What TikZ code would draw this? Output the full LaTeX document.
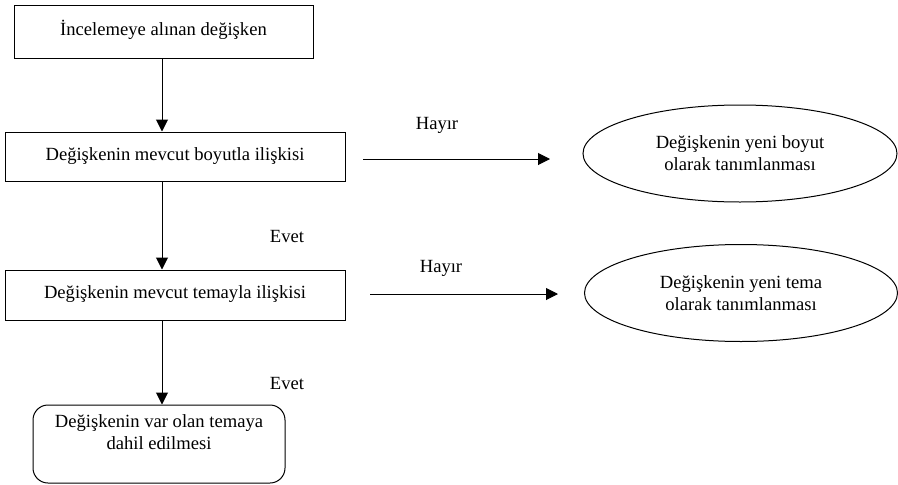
\documentclass[tikz,border=0pt]{standalone}
\usepackage{fontspec}
\setmainfont{Liberation Serif}
\newfontfamily\tnrfont{Liberation Serif}
\usetikzlibrary{arrows.meta,shapes.geometric}
\begin{document}
\begin{tikzpicture}[x=1pt,y=-1pt,
  every node/.style={font=\tnrfont\fontsize{18.6}{22}\selectfont, inner sep=0pt},
  box/.style={draw, line width=1pt, rectangle},
  rbox/.style={draw, line width=1pt, rectangle, rounded corners=15pt, align=center},
  oval/.style={draw, line width=1pt, ellipse, align=center},
  arr/.style={line width=1pt, -{Triangle[length=12pt,width=12pt]}},
  lbl/.style={}
]
\useasboundingbox (0,0) rectangle (898,485);

\node[box, minimum width=299pt, minimum height=53pt] (b1) at (163.5,31.5) {\raisebox{6.5pt}{İncelemeye alınan değişken}};
\node[box, minimum width=340pt, minimum height=49pt] (b2) at (175,156.5) {\raisebox{3.5pt}{Değişkenin mevcut boyutla ilişkisi}};
\node[box, minimum width=340pt, minimum height=50pt] (b3) at (175,295) {\raisebox{5pt}{Değişkenin mevcut temayla ilişkisi}};
\node[rbox, minimum width=252pt, minimum height=78pt] (b4) at (159,444) {Değişkenin var olan temaya\\dahil edilmesi\\[2pt]};

\node[oval, minimum width=314pt, minimum height=97pt] (e1) at (740,153.5) {Değişkenin yeni boyut\\olarak tanımlanması};
\node[oval, minimum width=313pt, minimum height=97pt] (e2) at (741,293) {Değişkenin yeni tema\\olarak tanımlanması};

\coordinate (col) at (162,0);
\draw[arr] (b1.south -| col) -- (b2.north -| col);
\draw[arr] (b2.south -| col) -- (b3.north -| col);
\draw[arr] (b3.south -| col) -- (b4.north -| col);

\coordinate (h1s) at (363,159);
\coordinate (h1e) at (550,159);
\coordinate (h2s) at (370,294);
\coordinate (h2e) at (558,294);
\draw[arr] (h1s) -- (h1e);
\draw[arr] (h2s) -- (h2e);

\node[lbl] (hayir1) at (437,125) {Hayır};
\node[lbl] (hayir2) at (441,268) {Hayır};
\node[lbl] (evet1) at (287,236) {Evet};
\node[lbl] (evet2) at (287,383) {Evet};
\end{tikzpicture}
\end{document}
